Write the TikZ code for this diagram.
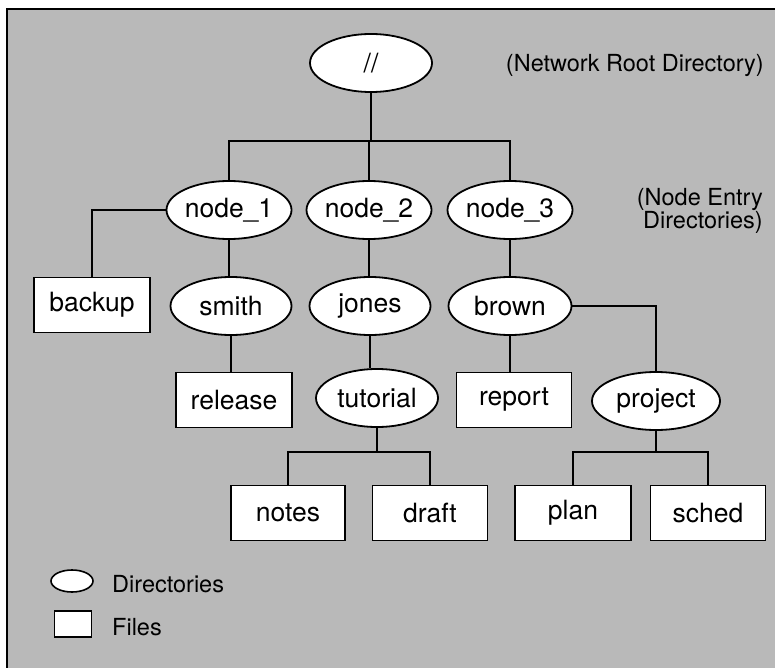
\documentclass[tikz,border=0pt]{standalone}
\usepackage{fontspec}
\setmainfont{TeX Gyre Heros}
\usetikzlibrary{shapes.geometric}
\definecolor{stipple}{HTML}{B9B9B9}
\tikzset{
  dirnode/.style={ellipse,draw=black,fill=white,line width=1.8pt,inner sep=0pt,
    minimum width=#1,minimum height=58pt,font=\fontsize{26.5}{30}\selectfont},
  dirnode/.default=121pt,
  filenode/.style={rectangle,draw=black,fill=white,line width=1.8pt,inner sep=0pt,
    minimum width=#1,minimum height=55pt,font=\fontsize{26.5}{30}\selectfont},
  filenode/.default=115pt,
  conn/.style={line width=1.8pt,black},
  note/.style={font=\fontsize{23.5}{22}\selectfont,inner sep=0pt},
}
\begin{document}
\begin{tikzpicture}[x=1pt,y=-1pt]
\useasboundingbox (0,0) rectangle (775,668);
\fill[stipple] (7,9) rectangle (775,668);
\draw[line width=1.8pt] (7,668) -- (7,9) -- (775,9);

% nodes
\node[dirnode=122pt] (root) at (371,63) {//};
\node[dirnode] (n1) at (229,210) {node\_1};
\node[dirnode] (n2) at (369,210) {node\_2};
\node[dirnode] (n3) at (510,210) {node\_3};
\node[filenode=116pt] (backup) at (92,305) {backup};
\node[dirnode] (smith) at (231,306) {smith};
\node[dirnode] (jones) at (370,306) {jones};
\node[dirnode=123pt] (brown) at (510,306) {brown};
\node[filenode=116pt] (release) at (234,400) {release};
\node[dirnode=122pt] (tutorial) at (377,398) {tutorial};
\node[filenode=115pt] (report) at (514,400) {report};
\node[dirnode=128pt] (project) at (656,401) {project};
\node[filenode=114pt] (notes) at (288,513) {notes};
\node[filenode=115pt] (draft) at (430,513) {draft};
\node[filenode=116pt] (plan) at (573,513) {plan};
\node[filenode=115pt] (sched) at (708,513) {sched};

\node[note,anchor=east] (rootlbl) at (764,65) {(Network Root Directory)};
\node[note,anchor=east,align=right] (entrylbl) at (763,211) {(Node Entry\\Directories)};

% legend
\node[ellipse,draw=black,fill=white,line width=1.6pt,inner sep=0pt,minimum width=42pt,minimum height=22pt] (legdir) at (72,581) {};
\node[note,anchor=west] (legdirtxt) at (112,584) {Directories};
\node[rectangle,draw=black,fill=white,line width=1.6pt,inner sep=0pt,minimum width=37pt,minimum height=26pt] (legfile) at (73,624) {};
\node[note,anchor=west] (legfiletxt) at (112,627) {Files};

% connectors
\coordinate (bus) at (369,141);
\draw[conn] (root.south) -- (root.south |- bus);
\draw[conn] (n1.north) |- (bus) -| (n3.north);
\draw[conn] (n2.north) -- (n2.north |- bus);
\draw[conn] (n1.west) -| (backup.north);
\draw[conn] (n1.south) -- (n1.south |- smith.north);
\draw[conn] (smith.south) -- (smith.south |- release.north);
\draw[conn] (n2.south) -- (n2.south |- jones.north);
\draw[conn] (jones.south) -- (jones.south |- tutorial.north);
\draw[conn] (n3.south) -- (n3.south |- brown.north);
\draw[conn] (brown.south) -- (brown.south |- report.north);
\draw[conn] (brown.east) -| (project.north);
\coordinate (tbus) at (377,452);
\draw[conn] (tutorial.south) -- (tbus);
\draw[conn] (notes.north) |- (tbus) -| (draft.north);
\coordinate (pbus) at (654,452);
\draw[conn] (project.south) -- (project.south |- pbus);
\draw[conn] (plan.north) |- (pbus) -| (sched.north);
\end{tikzpicture}
\end{document}
